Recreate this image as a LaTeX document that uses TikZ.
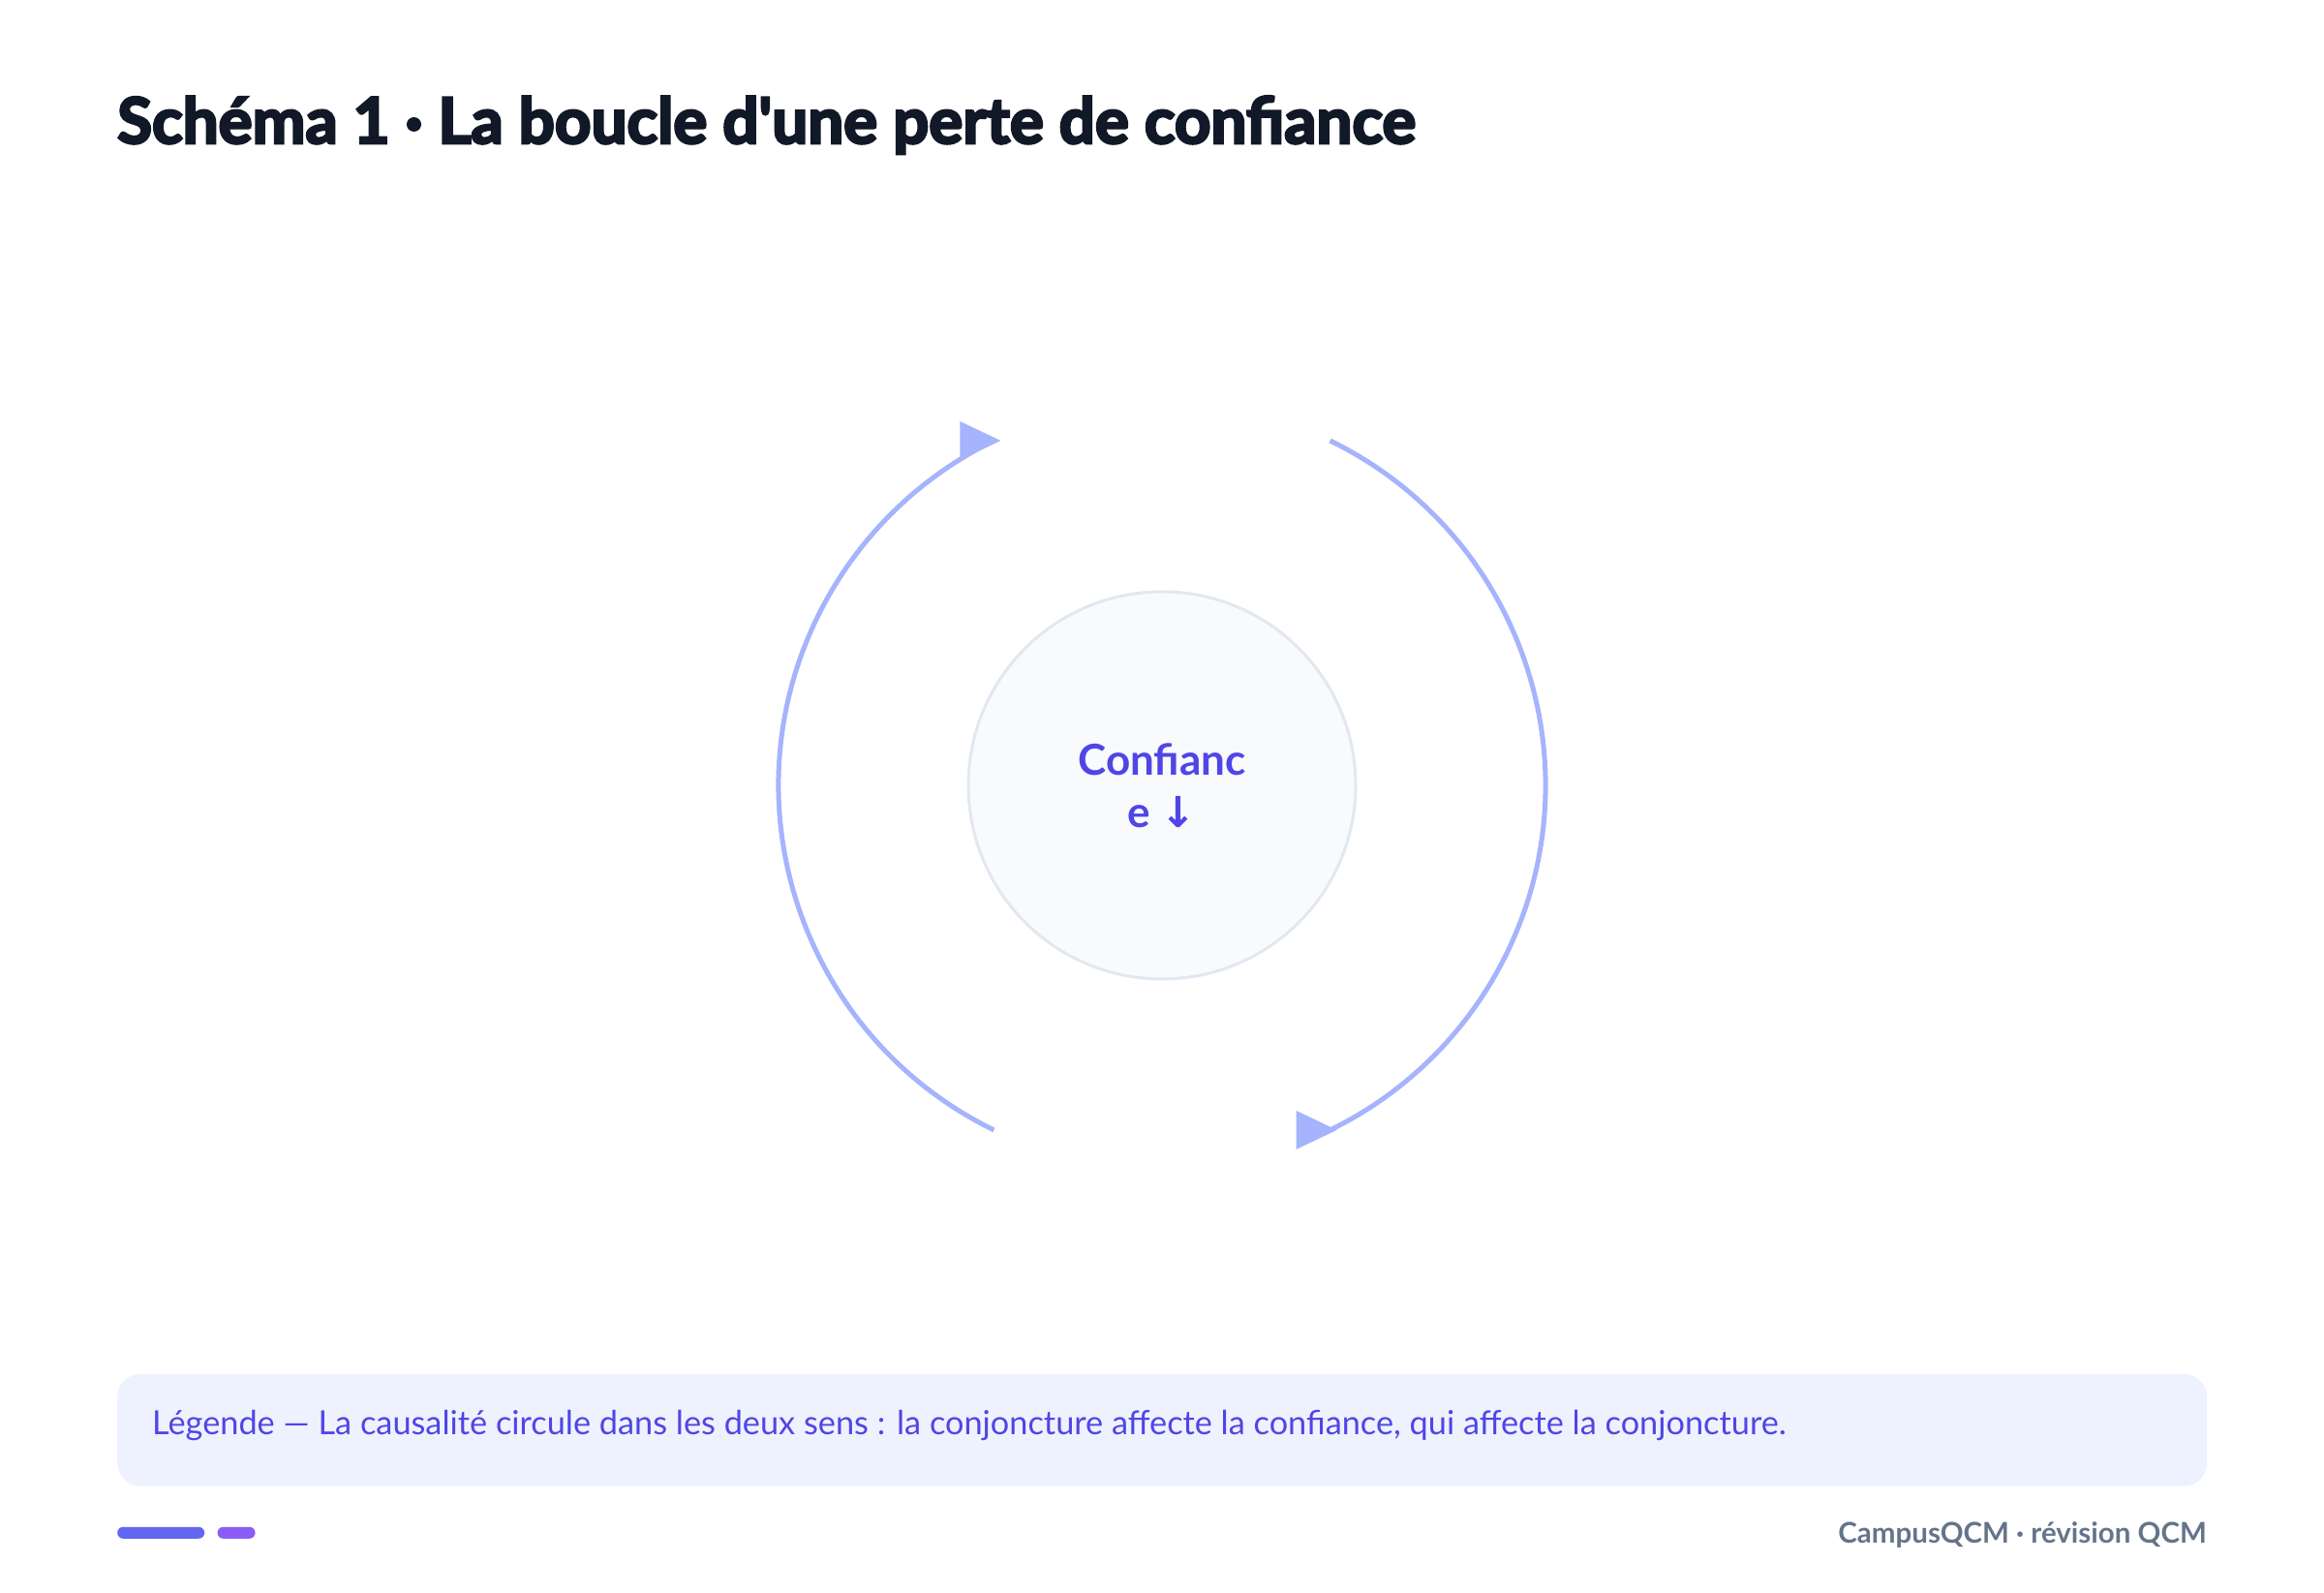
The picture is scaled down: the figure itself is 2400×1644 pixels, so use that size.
\documentclass[tikz,border=0pt]{standalone}
\usepackage{fontspec}
\setmainfont{Lato}
\newfontfamily\titlefont[FakeBold=4]{Lato}
\newfontfamily\arrowfont{DejaVu Sans}
\usetikzlibrary{calc,positioning}
\definecolor{ink}{HTML}{111827}
\definecolor{indigo}{HTML}{4F46E5}
\definecolor{periwinkle}{HTML}{A5B4FC}
\definecolor{ringfill}{HTML}{F8FAFC}
\definecolor{ringline}{HTML}{E2E8F0}
\definecolor{legendbg}{HTML}{EEF2FF}
\definecolor{slate}{HTML}{64748B}
\definecolor{barblue}{HTML}{6366F1}
\definecolor{barviolet}{HTML}{8B5CF6}

\begin{document}
\begin{tikzpicture}[
  x=1pt, y=1pt,
  title/.style={anchor=base west, inner sep=0pt, text=ink, font=\titlefont\bfseries\fontsize{65.5}{72}\selectfont},
  core/.style={circle, draw=ringline, fill=ringfill, line width=3pt, minimum size=400pt, inner sep=0pt,
    align=center, text=indigo, font=\bfseries\fontsize{44}{54}\selectfont},
  flow/.style={draw=periwinkle, line width=5pt},
  tip/.style={fill=periwinkle},
  legend/.style={fill=legendbg, rounded corners=24pt, minimum width=2158pt, minimum height=116pt, inner sep=0pt},
  note/.style={anchor=base west, inner sep=0pt, text=indigo, font=\fontsize{34.3}{40}\selectfont},
  bar/.style={rounded corners=6pt, minimum height=12pt, inner sep=0pt}
]
\useasboundingbox (0,0) rectangle (2400,1644);

\node[title] (head) at (121,1496) {Schéma 1 · La boucle d'une perte de confiance};

\node[core] (conf) at (1200,833) {Confianc\\e {\arrowfont ↓}};

% the two halves of the loop, both clockwise
\draw[flow] ($(conf.center)+(244:396)$) arc[start angle=244, end angle=116, radius=396] coordinate (upend);
\draw[flow] ($(conf.center)+(64:396)$) arc[start angle=64, end angle=-64, radius=396] coordinate (downend);
\fill[tip] ($(upend)+(7,0)$) -- ++(-42,20) -- ++(0,-40) -- cycle;
\fill[tip] ($(downend)+(7,0)$) -- ++(-42,20) -- ++(0,-40) -- cycle;

\node[legend, anchor=south west] (legend) at (121,109) {};
\node[note] (legendtext) at (157,163) {Légende — La causalité circule dans les deux sens : la conjoncture affecte la confiance, qui affecte la conjoncture.};

\node[bar, fill=barblue, minimum width=90pt, anchor=south west] (bar1) at (121,55) {};
\node[bar, fill=barviolet, minimum width=39pt, right=13pt of bar1.east, anchor=west] (bar2) {};
\node[anchor=base east, inner sep=0pt, text=slate, font=\bfseries\fontsize{29.5}{36}\selectfont] (brand) at (2279,51) {CampusQCM · révision QCM};
\end{tikzpicture}
\end{document}
